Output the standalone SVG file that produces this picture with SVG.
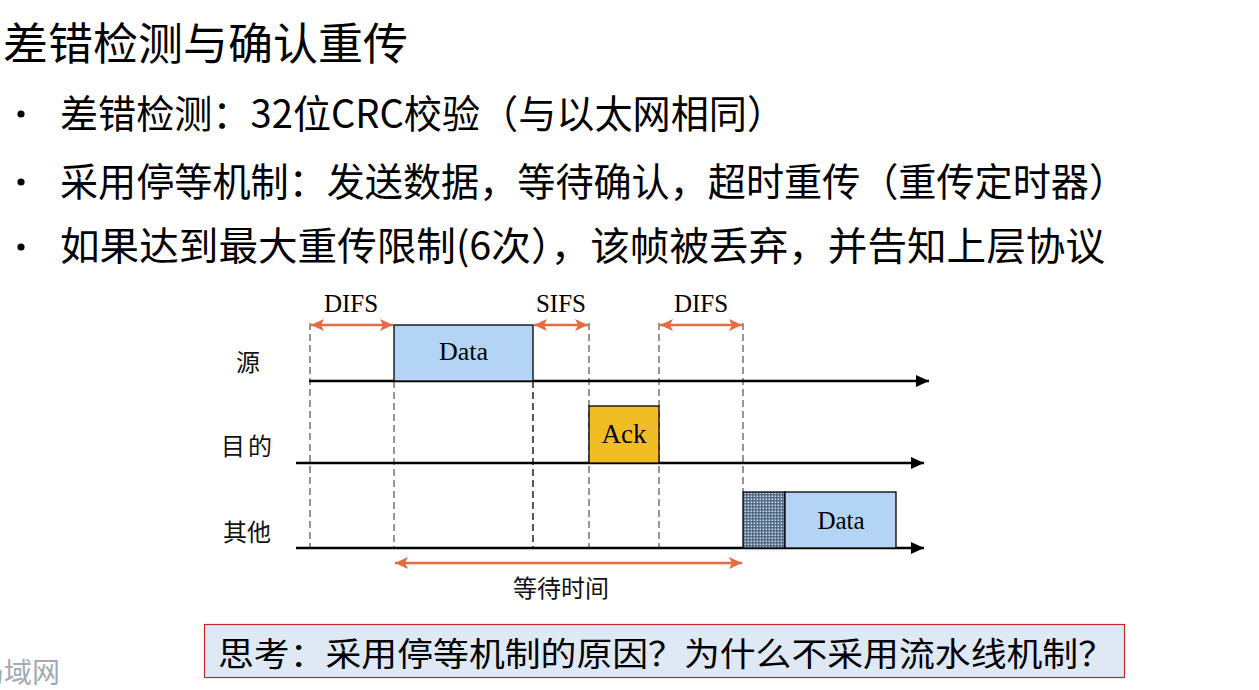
<svg xmlns="http://www.w3.org/2000/svg" width="1259" height="690" viewBox="0 0 1259 690">
  <style>
    .cjk { font-family: "Noto Sans CJK SC", "Noto Sans", sans-serif; fill: #000; }
    .ser { font-family: "Liberation Serif", "Noto Sans CJK SC", serif; fill: #000; }
    .lbl { font-family: "Liberation Serif", "Noto Sans CJK SC", serif; font-size: 24px; fill: #111; }
    .axis { stroke: #000; stroke-width: 2.5; fill: none; }
    .dash { stroke: #6a6a6a; stroke-width: 1.4; stroke-dasharray: 7 4; fill: none; }
    .dashk { stroke: #000; stroke-width: 1.3; stroke-dasharray: 7 4; fill: none; }
    .span { stroke: #E36C44; stroke-width: 2.5; fill: none; }
    .frame { stroke: #000; stroke-width: 1.3; }
    .dot { fill: #000; }
  </style>
  <defs>
    <marker id="ax" viewBox="0 0 13 12" refX="13" refY="6" markerWidth="13" markerHeight="12" markerUnits="userSpaceOnUse" orient="auto">
      <path d="M0,0 L13,6 L0,12 Z" fill="#000"/>
    </marker>
    <marker id="oe" viewBox="0 0 13 12" refX="13" refY="6" markerWidth="13" markerHeight="12" markerUnits="userSpaceOnUse" orient="auto">
      <path d="M0,0 L13,6 L0,12 L3,6 Z" fill="#E36C44"/>
    </marker>
    <marker id="os" viewBox="0 0 13 12" refX="0" refY="6" markerWidth="13" markerHeight="12" markerUnits="userSpaceOnUse" orient="auto">
      <path d="M13,0 L0,6 L13,12 L10,6 Z" fill="#E36C44"/>
    </marker>
    <pattern id="dots" width="3" height="3" patternUnits="userSpaceOnUse">
      <rect width="3" height="3" fill="#4b6782"/>
      <rect x="0.5" y="0.5" width="1.6" height="1.6" fill="#d5dee8"/>
    </pattern>
  </defs>

  <rect width="1259" height="690" fill="#fff"/>

  <!-- heading and bullet points -->
  <g id="title">
    <text class="cjk" x="3" y="60" font-size="44" textLength="405" lengthAdjust="spacingAndGlyphs">差错检测与确认重传</text>
  </g>
  <g id="bullets">
    <circle class="dot" cx="21" cy="114" r="3.6"/>
    <circle class="dot" cx="21" cy="182" r="3.6"/>
    <circle class="dot" cx="21" cy="247" r="3.6"/>
    <text class="cjk" x="60" y="128" font-size="39" textLength="725" lengthAdjust="spacingAndGlyphs">差错检测：32位CRC校验（与以太网相同）</text>
    <text class="cjk" x="60" y="196" font-size="39" textLength="1067" lengthAdjust="spacingAndGlyphs">采用停等机制：发送数据，等待确认，超时重传（重传定时器）</text>
    <text class="cjk" x="60" y="260" font-size="39" textLength="1045" lengthAdjust="spacingAndGlyphs">如果达到最大重传限制(6次），该帧被丢弃，并告知上层协议</text>
  </g>

  <!-- timing diagram: guides, axes and spans -->
  <g id="connectors">
    <line class="dash" x1="310" y1="323" x2="310" y2="548"/>
    <line class="dash" x1="394" y1="381" x2="394" y2="548"/>
    <line class="dashk" x1="533" y1="381" x2="533" y2="548"/>
    <line class="dash" x1="589" y1="323" x2="589" y2="548"/>
    <line class="dash" x1="659" y1="323" x2="659" y2="548"/>
    <line class="dash" x1="743" y1="323" x2="743" y2="492"/>

    <line class="axis" x1="309" y1="381" x2="929" y2="381" marker-end="url(#ax)"/>
    <line class="axis" x1="296" y1="463" x2="924" y2="463" marker-end="url(#ax)"/>
    <line class="axis" x1="296" y1="548" x2="924" y2="548" marker-end="url(#ax)"/>

    <line class="span" x1="311" y1="325" x2="393" y2="325" marker-start="url(#os)" marker-end="url(#oe)"/>
    <line class="span" x1="534" y1="325" x2="588" y2="325" marker-start="url(#os)" marker-end="url(#oe)"/>
    <line class="span" x1="660" y1="325" x2="742" y2="325" marker-start="url(#os)" marker-end="url(#oe)"/>
    <line class="span" x1="395" y1="563" x2="742" y2="563" marker-start="url(#os)" marker-end="url(#oe)"/>
  </g>

  <g id="span-labels">
    <text class="ser" x="351" y="312" font-size="25" text-anchor="middle">DIFS</text>
    <text class="ser" x="561" y="312" font-size="25" text-anchor="middle">SIFS</text>
    <text class="ser" x="701" y="312" font-size="25" text-anchor="middle">DIFS</text>
    <text class="lbl" x="561" y="597" text-anchor="middle" font-size="26">等待时间</text>
  </g>

  <g id="row-labels">
    <text class="lbl" x="248" y="371" text-anchor="middle">源</text>
    <text class="lbl" x="248" y="455" text-anchor="middle" letter-spacing="3">目的</text>
    <text class="lbl" x="247" y="541" text-anchor="middle">其他</text>
  </g>

  <g id="src-data">
    <rect class="frame" x="394" y="325" width="139" height="56" fill="#B4D4F6"/>
    <text class="ser" x="463.5" y="360" font-size="26" text-anchor="middle">Data</text>
  </g>

  <g id="dst-ack">
    <rect class="frame" x="589" y="406" width="70" height="57" fill="#F0BE22"/>
    <text class="ser" x="624" y="443" font-size="27" text-anchor="middle">Ack</text>
  </g>

  <g id="other-backoff">
    <rect class="frame" x="743" y="492" width="42" height="56" fill="url(#dots)"/>
  </g>

  <g id="other-data">
    <rect class="frame" x="785" y="492" width="111" height="56" fill="#B4D4F6"/>
    <text class="ser" x="841" y="529" font-size="25" text-anchor="middle">Data</text>
  </g>

  <!-- discussion question -->
  <g id="question">
    <rect x="204.5" y="624.5" width="920" height="53" fill="#DFE9F5" stroke="#C0282D" stroke-width="1.2"/>
    <text class="cjk" x="218" y="666" font-size="33" textLength="896" lengthAdjust="spacingAndGlyphs">思考：采用停等机制的原因？为什么不采用流水线机制？</text>
  </g>

  <!-- faint site mark, partly off the left edge -->
  <g id="watermark">
    <text class="cjk" x="-24" y="683" font-size="28" style="fill:#a3aab2">局域网</text>
  </g>
</svg>
